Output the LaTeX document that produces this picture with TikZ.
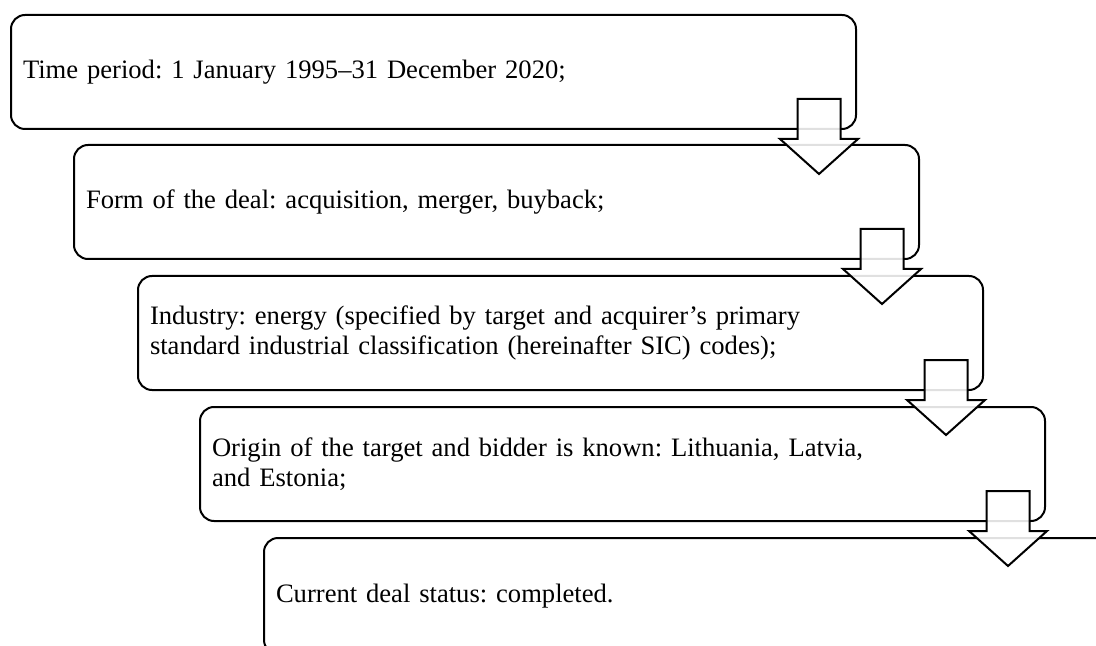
\documentclass[tikz,border=0pt]{standalone}
\usepackage{fontspec}
\setmainfont{Liberation Serif}
\frenchspacing
\usetikzlibrary{calc}
\tikzset{
  stepbox/.style   = {draw=black, line width=1pt, rounded corners=7pt,
                      anchor=north west, minimum height=57pt,
                      inner xsep=6pt, text width=410.5pt, align=left,
                      font=\fontsize{13.3}{15}\selectfont},
  % white block arrow, lines behind it still show through a little
  downarrow/.style = {draw=black, line width=1pt, fill=white,
                      fill opacity=0.88, line join=miter},
}

\begin{document}
\begin{tikzpicture}[x=0.5pt, y=-0.5pt]
  \useasboundingbox (0,0) rectangle (1096,646);
  \clip (0,0) rectangle (1096,646);

  \node[stepbox] (b1) at (10,14)  {Time period: 1 January 1995–31 December 2020;};
  \node[stepbox] (b2) at (73,144) {Form of the deal: acquisition, merger, buyback;};
  \node[stepbox] (b3) at (137,275)
    {Industry: energy (specified by target and acquirer’s primary\\
     standard industrial classification (hereinafter SIC) codes);};
  \node[stepbox] (b4) at (199,406)
    {Origin of the target and bidder is known: Lithuania, Latvia,\\
     and Estonia;};
  \node[stepbox, minimum height=58pt] (b5) at (263,537) {Current deal status: completed.};

  \foreach \a in {1,...,4} {
    \draw[downarrow, shift={($(b\a.south east)+(-38,0)$)}]
      (-21.5,-31) -- (21.5,-31) -- (21.5,9) -- (39,9) -- (0,44)
      -- (-39,9) -- (-21.5,9) -- cycle;
  }
\end{tikzpicture}
\end{document}
